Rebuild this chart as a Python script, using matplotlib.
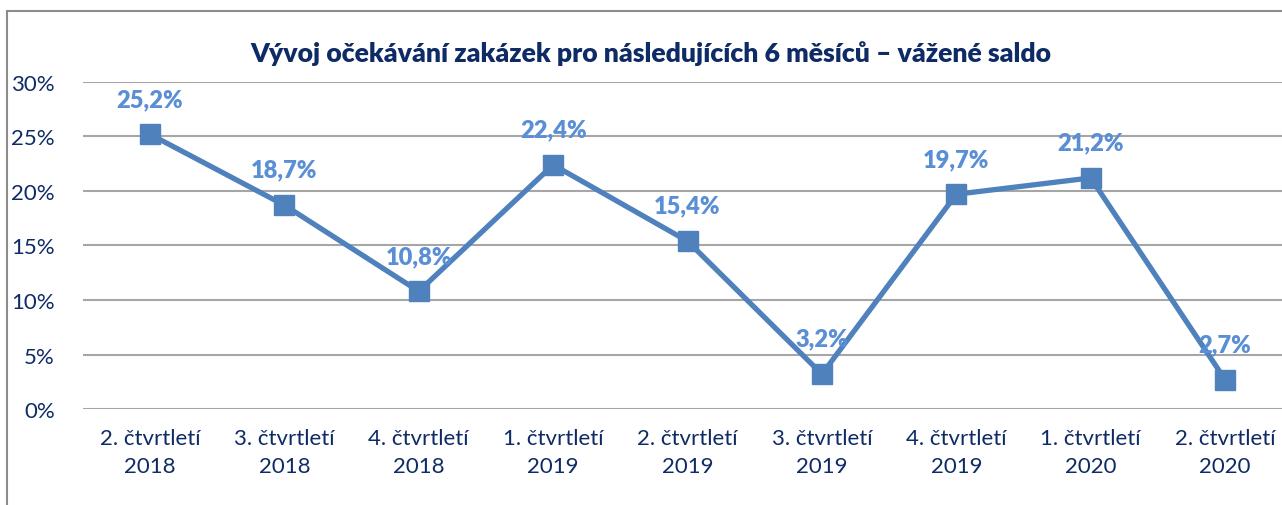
import matplotlib
matplotlib.use("Agg")
import matplotlib.pyplot as plt
from matplotlib.patches import Rectangle

categories = ["2. čtvrtletí\n2018", "3. čtvrtletí\n2018", "4. čtvrtletí\n2018",
              "1. čtvrtletí\n2019", "2. čtvrtletí\n2019", "3. čtvrtletí\n2019",
              "4. čtvrtletí\n2019", "1. čtvrtletí\n2020", "2. čtvrtletí\n2020"]
values = [25.2, 18.7, 10.8, 22.4, 15.4, 3.2, 19.7, 21.2, 2.7]
y_ticks = [0, 5, 10, 15, 20, 25, 30]
title = "Vývoj očekávání zakázek pro následujících 6 měsíců – vážené saldo"

plt.rcParams['font.family'] = ['Lato', 'DejaVu Sans']
text_color = "#0E2B66"

fig = plt.figure(figsize=(12.82, 5.06), dpi=100)
ax = fig.add_axes([0.0646, 0.1897, 0.9434, 0.6463])

x = list(range(len(categories)))
ax.plot(x, values, color="#4F81BD", linewidth=3.8, marker="s", markersize=14,
        markerfacecolor="#4F81BD", markeredgecolor="#4F81BD", zorder=3)
for xi, v in zip(x, values):
    ax.annotate(f"{v:.1f}%".replace(".", ","), (xi, v), xytext=(0, 25.5),
                textcoords="offset points", ha="center", va="center",
                fontsize=17, fontweight="heavy", color="#5A8FD5", zorder=4)

ax.set_xlim(-0.5, len(categories) - 0.5)
ax.set_ylim(0, 30)
ax.set_yticks(y_ticks)
ax.set_yticklabels([f"{t}%" for t in y_ticks])
ax.set_xticks(x)
ax.set_xticklabels(categories, linespacing=1.45)
ax.grid(axis="y", color="#A6A6A6", linewidth=1.5)
ax.set_axisbelow(True)
for s in ax.spines.values():
    s.set_visible(False)
ax.tick_params(axis="both", length=0, labelcolor=text_color, labelsize=16)
ax.tick_params(axis="y", pad=20)
ax.tick_params(axis="x", pad=14)

fig.text(0.508, 0.895, title, ha="center", va="center", fontsize=19.2,
         fontweight="heavy", color=text_color)

fig.patches.append(Rectangle((7/1282, -0.1), 1.2, 1 - 12/506 + 0.1,
                             transform=fig.transFigure, fill=False,
                             edgecolor="#8C8C8C", linewidth=1.5))

fig.savefig("out.png", dpi=100)
